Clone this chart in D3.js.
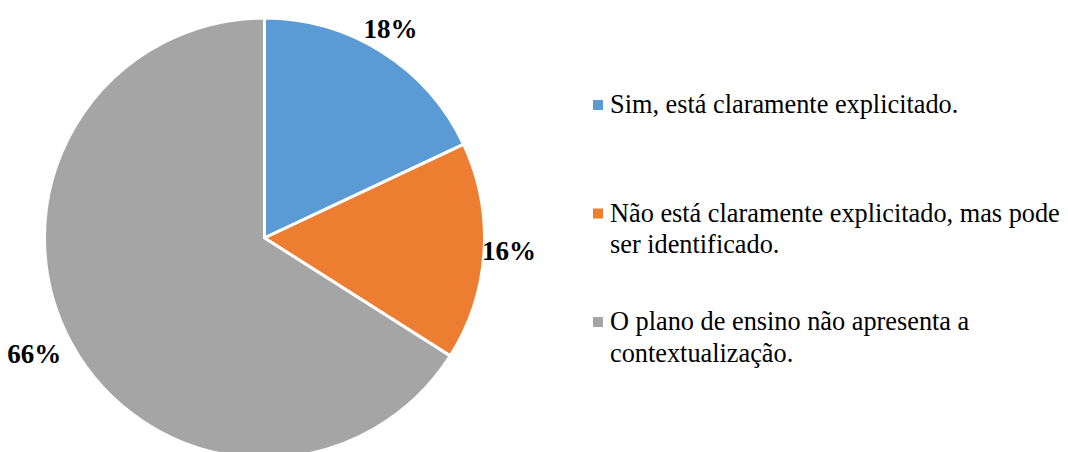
<!DOCTYPE html>
<html>
<head>
<meta charset="utf-8">
<script src="https://cdn.jsdelivr.net/npm/d3@7"></script>
<style>
  body { margin: 0; background: #fff; }
  svg text { font-family: "Liberation Serif", "Times New Roman", Times, serif; }
</style>
</head>
<body>
<div id="chart"></div>
<script>
// categories and values
var categories = [
    "Sim, está claramente explicitado.",
    "Não está claramente explicitado, mas pode ser identificado.",
    "O plano de ensino não apresenta a contextualização."
];
var values = [18, 16, 66];
var colors = ["#5b9bd5", "#ed7d31", "#a5a5a5"];

// legend text broken in lines as in the reference
var legendLines = [
    ["Sim, está claramente explicitado."],
    ["Não está claramente explicitado, mas pode", "ser identificado."],
    ["O plano de ensino não apresenta a", "contextualização."]
];

var width = 1068, height = 452;
var cx = 264.5, cy = 238, radius = 220;

var svg = d3.select("#chart").append("svg")
    .attr("width", width)
    .attr("height", height);

var data = categories.map(function(c, i) { return { name: c, value: values[i], color: colors[i] }; });

var pie = d3.pie()
    .sort(null)
    .value(function(d) { return d.value; });

var arc = d3.arc()
    .innerRadius(0)
    .outerRadius(radius);

var g = svg.append("g")
    .attr("transform", "translate(" + cx + "," + cy + ")");

var arcs = pie(data);

g.selectAll("path")
    .data(arcs)
    .enter()
    .append("path")
    .attr("d", arc)
    .style("fill", function(d) { return d.data.color; })
    .style("stroke", "#fff")
    .style("stroke-width", 3);

// percent labels, just outside the pie
var labelArc = d3.arc().innerRadius(radius + 28).outerRadius(radius + 28);
var labelOffsets = [[-7, 0], [-3, -3], [-13, -4]];

g.selectAll(".pct")
    .data(arcs)
    .enter()
    .append("text")
    .attr("class", "pct")
    .attr("x", function(d, i) { return labelArc.centroid(d)[0] + labelOffsets[i][0]; })
    .attr("y", function(d, i) { return labelArc.centroid(d)[1] + labelOffsets[i][1]; })
    .attr("text-anchor", "middle")
    .attr("dy", "0.35em")
    .style("font-size", "27px")
    .style("font-weight", "bold")
    .text(function(d) { return d.data.value + "%"; });

// legend
var legendX = 610;
var legendY = [113, 221.5, 330];
var lineGap = 31.7;

var legend = svg.selectAll(".legend")
    .data(data)
    .enter()
    .append("g")
    .attr("class", "legend");

legend.append("rect")
    .attr("x", legendX - 17)
    .attr("y", function(d, i) { return legendY[i] - 13; })
    .attr("width", 10)
    .attr("height", 10)
    .style("fill", function(d) { return d.color; });

legend.append("text")
    .attr("x", legendX)
    .attr("y", function(d, i) { return legendY[i]; })
    .style("font-size", "26.3px")
    .style("fill", "#000")
    .each(function(d, i) {
        var t = d3.select(this);
        legendLines[i].forEach(function(line, j) {
            t.append("tspan")
                .attr("x", legendX)
                .attr("y", legendY[i] + j * lineGap)
                .text(line);
        });
    });
</script>
</body>
</html>
